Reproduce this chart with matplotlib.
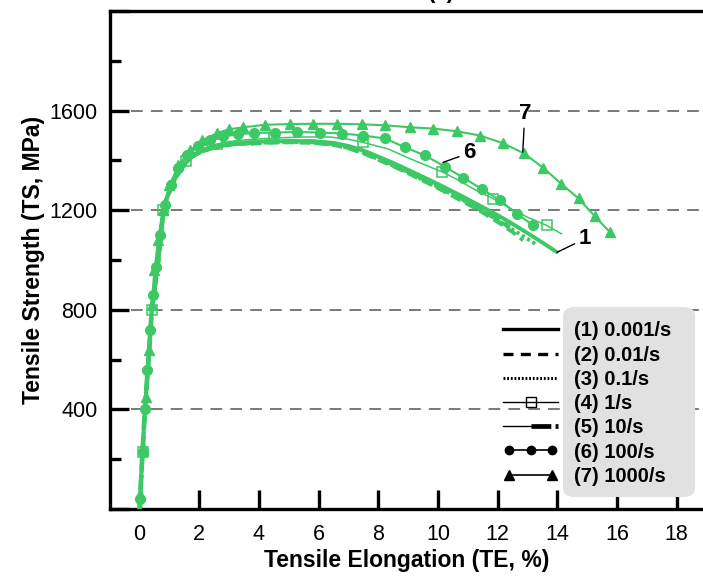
import matplotlib
matplotlib.use("Agg")
import matplotlib.pyplot as plt
from matplotlib.lines import Line2D
from matplotlib.legend_handler import HandlerLine2D, HandlerTuple
from matplotlib.patches import FancyBboxPatch

plt.rcParams['font.family'] = ['Liberation Sans', 'DejaVu Sans']

GREEN = '#3cc864'

# --- engineering stress-strain data (strain in %, stress in MPa) ---
# shared elastic / early hardening segment of the slower rates
x_el = [0.0, 0.10, 0.18, 0.30, 0.41, 0.52, 0.63, 0.72, 0.80, 0.90, 1.02, 1.18, 1.36, 1.55, 1.75, 2.00, 2.36, 2.80, 3.20]
y_el = [0, 230, 400, 600, 800, 900, 1000, 1110, 1200, 1245, 1280, 1325, 1360, 1390, 1415, 1432, 1448, 1460, 1467]

# (1) 0.001/s
x1 = x_el + [3.6, 4.2, 5.0, 5.8, 6.5, 7.0, 7.5, 8.0, 8.5, 9.0, 9.5, 10.0, 10.5, 11.0, 11.5, 12.0, 12.5, 13.0, 13.5, 13.98]
y1 = y_el + [1472, 1476, 1478, 1477, 1470, 1458, 1440, 1415, 1390, 1362, 1334, 1305, 1275, 1244, 1212, 1180, 1145, 1108, 1070, 1032]

# (2) 0.01/s
x2 = x_el + [3.6, 4.2, 5.0, 5.8, 6.5, 7.0, 7.5, 8.0, 8.5, 9.0, 9.5, 10.0, 10.5, 11.0, 11.5, 12.0, 12.5, 12.85]
y2 = y_el + [1465, 1470, 1472, 1470, 1462, 1448, 1428, 1402, 1376, 1348, 1318, 1288, 1256, 1224, 1190, 1152, 1112, 1079]

# (3) 0.1/s
x3 = x_el + [3.6, 4.2, 5.0, 5.8, 6.5, 7.0, 7.5, 8.0, 8.5, 9.0, 9.5, 10.0, 10.5, 11.0, 11.5, 12.0, 12.5, 13.0, 13.3]
y3 = y_el + [1468, 1472, 1474, 1472, 1464, 1450, 1431, 1405, 1379, 1351, 1322, 1292, 1262, 1230, 1196, 1160, 1122, 1085, 1062]

# (4) 1/s
x4 = [0.0, 0.10, 0.18, 0.30, 0.41, 0.52, 0.63, 0.72, 0.80, 0.90, 1.02, 1.18, 1.36, 1.55, 1.75, 2.00, 2.36, 2.60, 3.00, 3.60,
      4.50, 5.50, 6.38, 7.00, 7.50, 8.33, 9.00, 9.50, 10.12, 10.60, 11.20, 11.85, 12.50, 13.00, 13.64, 14.14]
y4 = [0, 230, 400, 600, 800, 900, 1000, 1110, 1200, 1248, 1285, 1330, 1368, 1398, 1422, 1442, 1458, 1466, 1476, 1483,
      1490, 1494, 1494, 1485, 1472, 1446, 1410, 1385, 1355, 1326, 1285, 1246, 1202, 1172, 1139, 1105]
m4 = [1, 4, 8, 13, 17, 20, 24, 28, 31, 34]

# (5) 10/s
x5 = x_el + [3.6, 4.2, 5.0, 5.8, 6.5, 7.0, 7.5, 8.0, 8.5, 9.0, 9.5, 10.0, 10.5, 11.0, 11.5, 12.0, 12.4]
y5 = y_el + [1470, 1475, 1477, 1475, 1467, 1453, 1435, 1410, 1384, 1356, 1327, 1297, 1266, 1234, 1200, 1164, 1132]

# (6) 100/s
x6 = [0.02, 0.10, 0.18, 0.26, 0.35, 0.45, 0.56, 0.70, 0.85, 1.05, 1.30, 1.60, 1.95, 2.35, 2.80, 3.30, 3.83, 4.54, 5.29,
      6.05, 6.77, 7.50, 8.22, 8.89, 9.56, 10.23, 10.84, 11.46, 12.08, 12.64, 13.19]
y6 = [40, 230, 400, 560, 720, 860, 970, 1100, 1220, 1300, 1370, 1420, 1458, 1480, 1496, 1505, 1510, 1512, 1514,
      1512, 1508, 1500, 1488, 1453, 1420, 1375, 1331, 1286, 1239, 1186, 1139]

# (7) 1000/s
x7 = [0.03, 0.10, 0.20, 0.30, 0.40, 0.50, 0.62, 0.78, 1.00, 1.30, 1.70, 2.10, 2.60, 3.00, 3.47, 4.21, 5.04, 5.82,
      6.63, 7.44, 8.23, 9.06, 9.83, 10.63, 11.40, 12.18, 12.88, 13.52, 14.12, 14.71, 15.26, 15.76]
y7 = [60, 250, 450, 640, 820, 960, 1080, 1200, 1300, 1380, 1440, 1480, 1510, 1525, 1533, 1543, 1546, 1547,
      1547, 1545, 1541, 1533, 1528, 1517, 1500, 1469, 1428, 1371, 1307, 1247, 1175, 1112]

labels = ['(1) 0.001/s', '(2) 0.01/s', '(3) 0.1/s', '(4) 1/s', '(5) 10/s', '(6) 100/s', '(7) 1000/s']
grid_levels = [400, 800, 1200, 1600]
yticks_major = [0, 400, 800, 1200, 1600, 2000]
yticks_minor = [200, 600, 1000, 1400, 1800]
xticks = [0, 2, 4, 6, 8, 10, 12, 14, 16, 18]

fig = plt.figure(figsize=(7.03, 5.79), dpi=100)
ax = fig.add_axes([0.1565, 0.1209, 0.8435, 0.8601])
ax.set_xlim(-0.99, 18.88)
ax.set_ylim(0, 2000)

# dashed reference lines
ax.hlines(grid_levels, -0.30, 18.88, colors='#6e6e6e', linewidth=1.3,
          linestyles=(0, (6.5, 4.5)), zorder=1)

# curves
ax.plot(x1, y1, color=GREEN, lw=2.8, solid_capstyle='round', zorder=3)
ax.plot(x2, y2, color=GREEN, lw=2.6, ls=(0, (3, 1.5)), zorder=3)
ax.plot(x3, y3, color=GREEN, lw=2.8, ls=(0, (0.8, 0.8)), zorder=3)
ax.plot(x4, y4, color=GREEN, lw=1.1, marker='s', markersize=7.5, markerfacecolor='none',
        markeredgecolor=GREEN, markeredgewidth=1.1, markevery=m4, zorder=3)
ax.plot(x5, y5, color=GREEN, lw=1.0, zorder=3)
ax.plot(x5, y5, color=GREEN, lw=3.4, ls=(0, (3.0, 1.2)), zorder=3)
ax.plot(x6, y6, color=GREEN, lw=1.5, marker='o', markersize=7, zorder=4)
ax.plot(x7, y7, color=GREEN, lw=1.5, marker='^', markersize=7.5, zorder=4)

# curve labels
arrow = dict(arrowstyle='-', color='black', lw=1.0, shrinkA=1, shrinkB=0)
ax.annotate('7', xy=(12.84, 1433), xytext=(12.91, 1588), ha='center', va='center',
            fontsize=16, fontweight='bold', arrowprops=arrow, zorder=6)
ax.annotate('6', xy=(10.17, 1392), xytext=(11.05, 1430), ha='center', va='center',
            fontsize=16, fontweight='bold', arrowprops=arrow, zorder=6)
ax.annotate('1', xy=(13.99, 1031), xytext=(14.92, 1085), ha='center', va='center',
            fontsize=16, fontweight='bold', arrowprops=arrow, zorder=6)

# axes styling
ax.spines['right'].set_visible(False)
for side in ['left', 'bottom', 'top']:
    ax.spines[side].set_linewidth(2.4)
ax.set_xticks(xticks)
ax.set_yticks(yticks_major)
ax.set_yticklabels(['', '400', '800', '1200', '1600', ''])
ax.set_yticks(yticks_minor, minor=True)
ax.tick_params(axis='both', which='major', direction='in', length=14, width=2.4,
               labelsize=15.5, pad=9)
ax.tick_params(axis='y', which='minor', direction='in', length=8, width=2.4)
ax.tick_params(axis='x', which='major', pad=11)
ax.set_xlabel('Tensile Elongation (TE, %)', fontsize=16.5, fontweight='bold', labelpad=3)
ax.set_ylabel('Tensile Strength (TS, MPa)', fontsize=16.5, fontweight='bold', labelpad=3)

# legend
h1 = Line2D([], [], color='k', lw=2.4)
h2 = Line2D([], [], color='k', lw=2.4, ls=(0, (3, 2.2)))
h3 = Line2D([], [], color='k', lw=2.2, ls=(0, (0.6, 0.6)))
h4 = Line2D([], [], color='k', lw=1.0, marker='s', markersize=7, markerfacecolor='none',
            markeredgewidth=1.0)
h5a = Line2D([], [], color='k', lw=1.0)
h5b = Line2D([], [], color='k', lw=3.4, ls=(0, (4.2, 0.9)))
h6 = Line2D([], [], color='k', lw=1.2, marker='o', markersize=6)
h7 = Line2D([], [], color='k', lw=1.2, marker='^', markersize=7)

leg = ax.legend([h1, h2, h3, h4, (h5a, h5b), h6, h7], labels,
                handler_map={h4: HandlerLine2D(numpoints=1), h6: HandlerLine2D(numpoints=3),
                             h7: HandlerLine2D(numpoints=2), tuple: HandlerTuple(ndivide=None)},
                loc='upper left', bbox_to_anchor=(0.7155, 0.4450), bbox_transform=fig.transFigure,
                frameon=False, prop={'size': 14.5, 'weight': 'bold'},
                handlelength=2.75, handletextpad=0.8, labelspacing=0.26,
                borderpad=0.0, borderaxespad=0.0)
leg.set_zorder(8)

box = FancyBboxPatch((0.8009, 0.1416), 0.1878, 0.3282, transform=fig.transFigure,
                     boxstyle='round,pad=0,rounding_size=0.016', facecolor='#e1e1e1',
                     edgecolor='none', zorder=5)
ax.add_artist(box)

# panel title, partly beyond the top edge
fig.text(0.628, 1.004, '(a)', ha='center', va='baseline', fontsize=16, fontweight='bold')

fig.savefig('out.png', dpi=100)
